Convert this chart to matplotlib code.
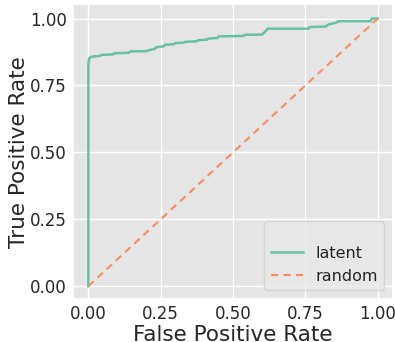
import matplotlib
matplotlib.use('Agg')
import matplotlib.pyplot as plt

# ── ROC data ───────────────────────────────────────────────────────────────
latent_fpr = [0.0, 0.0, 0.003, 0.008, 0.015, 0.04, 0.045, 0.085, 0.09, 0.14, 0.145,
              0.20, 0.21, 0.23, 0.235, 0.26, 0.265, 0.295, 0.30, 0.33, 0.335,
              0.375, 0.38, 0.41, 0.415, 0.445, 0.45, 0.535, 0.54, 0.60, 0.61, 0.62,
              0.76, 0.765, 0.82, 0.83, 0.855, 0.865, 0.975, 0.98, 1.0]
latent_tpr = [0.0, 0.83, 0.85, 0.855, 0.858, 0.86, 0.864, 0.866, 0.870, 0.872, 0.877,
              0.878, 0.882, 0.886, 0.893, 0.896, 0.902, 0.904, 0.908, 0.910, 0.913,
              0.915, 0.919, 0.921, 0.925, 0.927, 0.933, 0.935, 0.939, 0.940, 0.950, 0.962,
              0.962, 0.968, 0.970, 0.978, 0.984, 0.990, 0.990, 1.0, 1.0]
random_fpr = [0.0, 1.0]
random_tpr = [0.0, 1.0]

# ── Plot ───────────────────────────────────────────────────────────────────
plt.rcParams['font.family'] = ['DejaVu Sans']
plt.rcParams['text.color'] = '#262626'

fig, ax = plt.subplots(figsize=(3.95, 3.42), dpi=100)
ax.set_facecolor('#E5E5E5')
for sp in ax.spines.values():
    sp.set_visible(False)
ax.grid(True, color='white', linewidth=1.0)
ax.set_axisbelow(True)

ax.plot(latent_fpr, latent_tpr, color='#66c2a5', linewidth=1.8, label='latent')
ax.plot(random_fpr, random_tpr, color='#fc8d62', linewidth=1.5,
        linestyle=(0, (3.5, 2.5)), label='random')

ticks = [0, 0.25, 0.5, 0.75, 1.0]
tick_labels = ['0.00', '0.25', '0.50', '0.75', '1.00']
ax.set_xticks(ticks)
ax.set_yticks(ticks)
ax.set_xticklabels(tick_labels)
ax.set_yticklabels(tick_labels)
ax.tick_params(labelsize=12, length=0, colors='#262626', pad=5)
ax.set_xlim(-0.05, 1.05)
ax.set_ylim(-0.045, 1.05)

ax.set_xlabel('False Positive Rate', fontsize=15.5, color='#262626', labelpad=1)
ax.set_ylabel('True Positive Rate', fontsize=15.5, color='#262626', labelpad=1)

leg = ax.legend(loc='lower right', fontsize=11.5, title=' ', title_fontsize=7,
                facecolor='#E8E8E8', edgecolor='#D0D0D0', framealpha=0.8,
                borderpad=0.4, handlelength=2.0, handletextpad=0.8,
                bbox_to_anchor=(1.0, 0.0), borderaxespad=0.5)
for t in leg.get_texts():
    t.set_color('#262626')

fig.subplots_adjust(left=0.187, right=0.993, top=0.985, bottom=0.128)
fig.savefig('out.png', dpi=100)
